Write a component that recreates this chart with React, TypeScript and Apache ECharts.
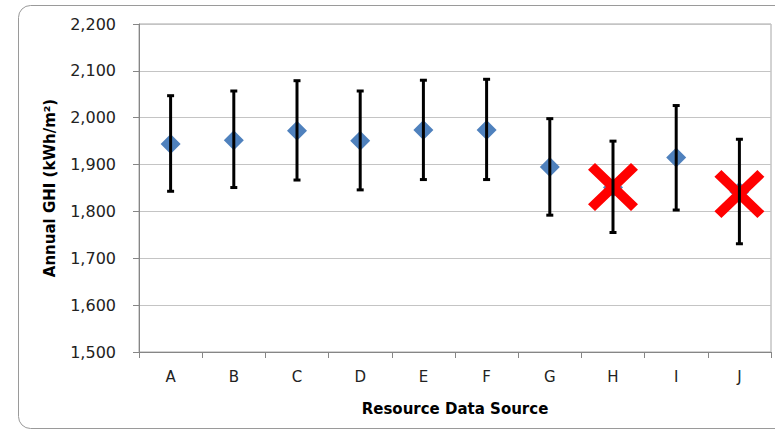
import React, { useEffect, useRef } from "react";
import * as echarts from "echarts";

const categories = ["A", "B", "C", "D", "E", "F", "G", "H", "I", "J"];
const ghiValues = [1944, 1952, 1972, 1951, 1974, 1974, 1895, 1851, 1915, 1842];
const errLow = [1843, 1851, 1867, 1846, 1868, 1868, 1792, 1755, 1803, 1731];
const errHigh = [2047, 2057, 2079, 2057, 2080, 2082, 1998, 1950, 2026, 1954];
const rejectedCats = ["H", "J"];
const rejectedValues = [1852, 1837];

const X_PATH = "path://M14,0 L100,86 L86,100 L0,14 Z M86,0 L100,14 L14,100 L0,86 Z";

export default function App() {
  const ref = useRef<HTMLDivElement>(null);
  useEffect(() => {
    if (!ref.current) return;
    const chart = echarts.init(ref.current, undefined, { renderer: "svg" });
    const font = "DejaVu Sans";
    chart.setOption({
      animation: false,
      backgroundColor: "#ffffff",
      graphic: [
        {
          type: "rect",
          shape: { x: 18.5, y: 5.5, width: 820, height: 423, r: 12 },
          style: { fill: "none", stroke: "#9a9a9a", lineWidth: 1 },
          z: -1,
        },
      ],
      grid: {
        left: 139,
        right: 4,
        top: 24,
        bottom: 81,
        show: true,
        borderColor: "#a6a6a6",
        borderWidth: 1,
      },
      xAxis: {
        type: "category",
        data: categories,
        name: "Resource Data Source",
        nameLocation: "middle",
        nameGap: 49,
        nameTextStyle: { fontFamily: font, fontWeight: "bold", fontSize: 15, color: "#000" },
        axisLine: { lineStyle: { color: "#868686", width: 1 } },
        axisTick: { show: true, length: 6, lineStyle: { color: "#868686" } },
        axisLabel: { fontFamily: font, fontSize: 15, color: "#222", margin: 17 },
      },
      yAxis: {
        type: "value",
        min: 1500,
        max: 2200,
        interval: 100,
        name: "Annual GHI (kWh/m²)",
        nameLocation: "middle",
        nameGap: 82,
        nameTextStyle: { fontFamily: font, fontWeight: "bold", fontSize: 15, color: "#000" },
        axisLine: { show: true, lineStyle: { color: "#868686", width: 1 } },
        axisTick: { show: true, length: 6, lineStyle: { color: "#868686" } },
        axisLabel: {
          fontFamily: font,
          fontSize: 16,
          color: "#222",
          margin: 23,
          formatter: (v: number) => v.toLocaleString("en-US"),
        },
        splitLine: { lineStyle: { color: "#c4c4c4", width: 1 } },
      },
      series: [
        {
          name: "GHI",
          type: "scatter",
          data: ghiValues,
          symbol: "diamond",
          symbolSize: 20,
          itemStyle: { color: "#4F81BD", opacity: 1 },
          z: 2,
        },
        {
          name: "Rejected",
          type: "scatter",
          data: rejectedCats.map((c, i) => [c, rejectedValues[i]]),
          symbol: X_PATH,
          symbolSize: [50, 48],
          itemStyle: { color: "#FF0000", opacity: 1 },
          z: 3,
        },
        {
          name: "Error",
          type: "custom",
          z: 4,
          data: categories.map((c, i) => [i, errLow[i], errHigh[i]]),
          renderItem: (params: any, api: any) => {
            const idx = api.value(0);
            const lo = api.coord([idx, api.value(1)]);
            const hi = api.coord([idx, api.value(2)]);
            const capW = 3.5;
            const style = { stroke: "#000", lineWidth: 3 };
            return {
              type: "group",
              children: [
                { type: "line", shape: { x1: hi[0], y1: hi[1], x2: lo[0], y2: lo[1] }, style },
                { type: "line", shape: { x1: hi[0] - capW, y1: hi[1], x2: hi[0] + capW, y2: hi[1] }, style },
                { type: "line", shape: { x1: lo[0] - capW, y1: lo[1], x2: lo[0] + capW, y2: lo[1] }, style },
              ],
            };
          },
        },
      ],
    });
    return () => chart.dispose();
  }, []);
  return (
    <div
      ref={ref}
      style={{ position: "fixed", left: 0, top: 0, width: 775, height: 433 }}
    />
  );
}
